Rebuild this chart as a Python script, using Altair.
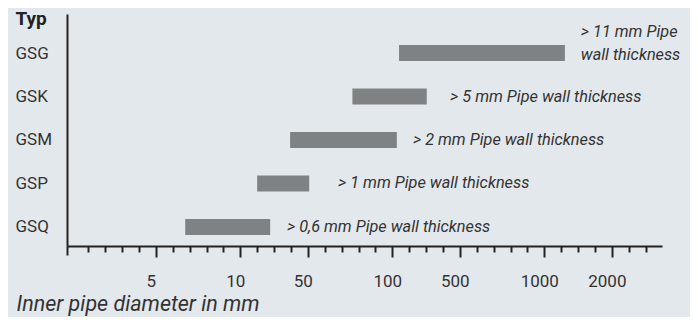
import altair as alt
import pandas as pd

# --- data (x in axis-tick units, y in row units) ---
types = ["GSQ", "GSP", "GSM", "GSK", "GSG"]
rows = [0, 1, 2, 3, 4]
range_start = [5.74, 10.0, 11.95, 15.64, 18.4]
range_end = [10.77, 13.08, 18.27, 20.04, 28.22]
notes = [
    "> 0,6 mm Pipe wall thickness",
    "> 1 mm Pipe wall thickness",
    "> 2 mm Pipe wall thickness",
    "> 5 mm Pipe wall thickness",
    "> 11 mm Pipe\nwall thickness",
]
note_x = [11.76, 14.78, 19.22, 21.42, 29.16]

tick_positions = list(range(34))
major_positions = [4, 9, 13, 18, 22, 27, 31]
major_labels = ["5", "10", "50", "100", "500", "1000", "2000"]

x_domain = [-1.26, 33.97]
y_domain = [-0.44, 4.9]

df = pd.DataFrame({
    "typ": types,
    "row": rows,
    "start": range_start,
    "end": range_end,
    "note": notes,
    "note_x": note_x,
})

def ternary(values, labels, default="''"):
    expr = default
    for v, l in reversed(list(zip(values, labels))):
        expr = f"datum.value == {v} ? '{l}' : ({expr})"
    return expr

x_label_expr = ternary(major_positions, major_labels)
y_label_expr = ternary(rows, types)
major_test = " || ".join(f"datum.value == {v}" for v in major_positions)

FONT = "Roboto"
DARK = "#222222"
TEXT = "#333333"

x_scale = alt.Scale(domain=x_domain, nice=False, zero=False)
y_scale = alt.Scale(domain=y_domain, nice=False, zero=False)

x_axis = alt.Axis(
    values=[x_domain[0]] + tick_positions,
    tickCount=200,
    labelExpr=x_label_expr,
    grid=False,
    domainColor=DARK,
    domainWidth=2,
    tickColor=DARK,
    tickWidth=2,
    tickSize={"condition": [
        {"test": "datum.value < 0", "value": 9},
        {"test": major_test, "value": 11},
    ], "value": 6},
    labelFont=FONT,
    labelFontSize=17,
    labelColor=TEXT,
    labelPadding=16,
    labelOffset=-5,
    labelOverlap=False,
    labelFlush=False,
    title="Inner pipe diameter in mm",
    titleFont=FONT,
    titleFontSize=21.5,
    titleFontStyle="italic",
    titleFontWeight="normal",
    titleColor=TEXT,
    titleAnchor="start",
    titleAlign="left",
    titleBaseline="alphabetic",
    titleX=-51,
    titleY=64,
)

y_axis = alt.Axis(
    values=rows,
    tickCount=50,
    labelExpr=y_label_expr,
    grid=False,
    ticks=False,
    domainColor=DARK,
    domainWidth=2,
    labelFont=FONT,
    labelFontSize=17,
    labelColor=TEXT,
    labelAlign="left",
    labelBaseline="middle",
    labelPadding=52,
    title="Typ",
    titleFont=FONT,
    titleFontSize=19,
    titleFontWeight="bold",
    titleColor=DARK,
    titleAngle=0,
    titleAlign="left",
    titleBaseline="alphabetic",
    titleX=-52,
    titleY=10,
)

base = alt.Chart(df)

bars = base.mark_rule(strokeWidth=16, strokeCap="butt", color="#7e8285").encode(
    x=alt.X("start:Q", scale=x_scale, axis=x_axis),
    x2="end:Q",
    y=alt.Y("row:Q", scale=y_scale, axis=y_axis),
)

notes_single = base.transform_filter("datum.row < 4").mark_text(
    align="left", baseline="middle", font=FONT, fontSize=16.3,
    fontStyle="italic", color=TEXT,
).encode(
    x=alt.X("note_x:Q", scale=x_scale),
    y=alt.Y("row:Q", scale=y_scale),
    text="note:N",
)

notes_multi = base.transform_filter("datum.row == 4").mark_text(
    align="left", baseline="middle", font=FONT, fontSize=16.3,
    fontStyle="italic", color=TEXT, lineBreak="\n", lineHeight=23, dy=-21,
).encode(
    x=alt.X("note_x:Q", scale=x_scale),
    y=alt.Y("row:Q", scale=y_scale),
    text="note:N",
)

chart = alt.layer(bars, notes_single, notes_multi).properties(
    width=595,
    height=232,
    autosize=alt.AutoSizeParams(type="none"),
    padding={"left": 59, "top": 6, "right": 28, "bottom": 71},
).configure(
    background="#e3e8ec",
).configure_view(
    stroke=None,
)

chart.save("out.html", embed_options={"renderer": "svg", "actions": False})
